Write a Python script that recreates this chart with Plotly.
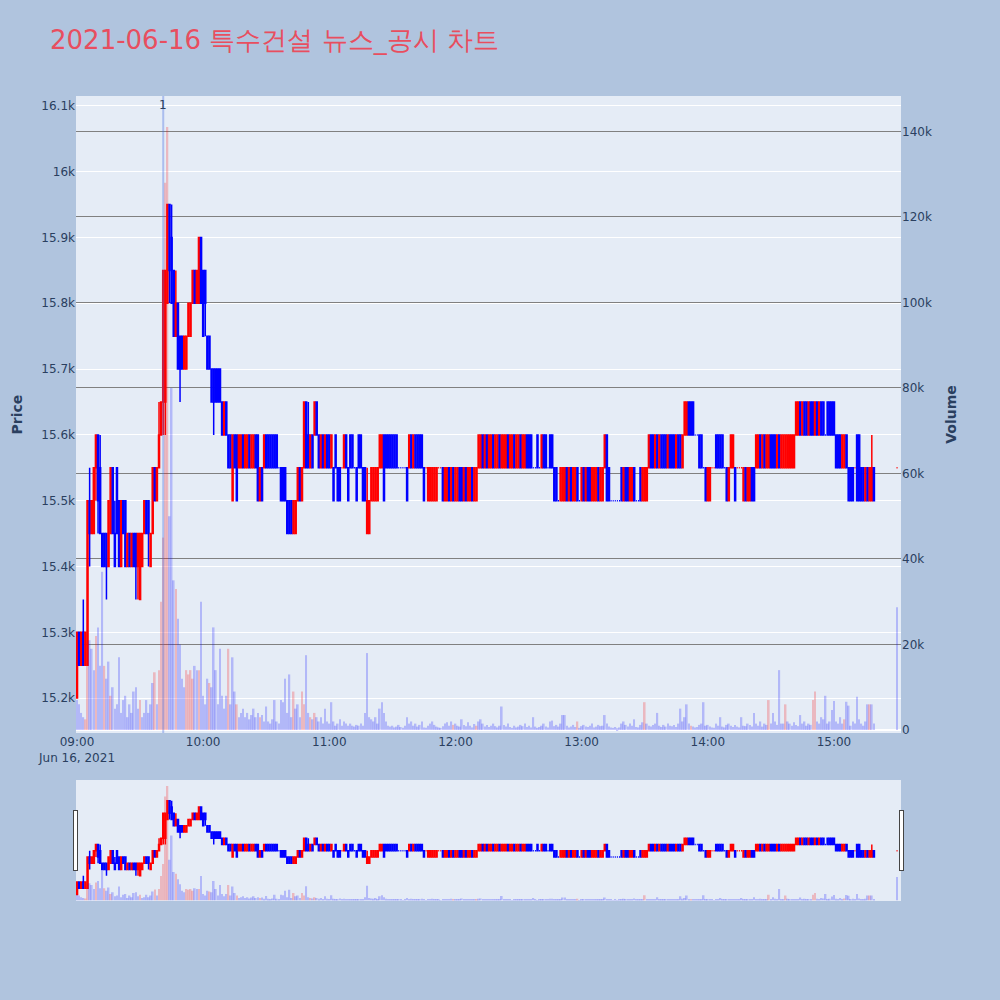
import plotly.graph_objects as go
from plotly.subplots import make_subplots
import pandas as pd

title_text = "2021-06-16 특수건설 뉴스_공시 차트"
news_time = "2021-06-16 09:41"
news_label = "1"

# one candle per minute 09:00-15:19, plus the 15:30 closing auction
times = list(pd.date_range("2021-06-16 09:00", periods=380, freq="min")) + [pd.Timestamp("2021-06-16 15:30")]

opens = [
    15200,15300,15250,15300,15250,15250,15500,15450,15450,15550,
    15600,15550,15450,15450,15450,15400,15450,15550,15450,15550,
    15500,15400,15500,15500,15400,15450,15400,15450,15450,15400,
    15350,15400,15450,15500,15500,15400,15450,15550,15500,15550,
    15600,15650,15650,15800,15950,15900,15850,15750,15800,15750,
    15750,15700,15700,15750,15750,15800,15850,15800,15800,15900,
    15850,15850,15750,15750,15700,15700,15700,15700,15700,15650,
    15600,15650,15600,15600,15500,15600,15600,15550,15550,15600,
    15550,15550,15600,15550,15550,15600,15600,15500,15550,15550,
    15600,15600,15600,15600,15600,15600,15550,15550,15550,15550,
    15500,15500,15500,15450,15450,15500,15550,15500,15550,15650,
    15600,15550,15600,15600,15650,15600,15550,15600,15550,15600,
    15600,15550,15550,15600,15550,15550,15550,15550,15600,15550,
    15600,15600,15550,15550,15600,15600,15550,15550,15450,15450,
    15500,15500,15500,15500,15550,15550,15600,15600,15600,15600,
    15600,15600,15600,15550,15550,15550,15550,15550,15550,15600,
    15550,15600,15600,15600,15600,15550,15550,15500,15500,15500,
    15500,15500,15550,15550,15550,15500,15500,15550,15500,15550,
    15500,15500,15550,15550,15500,15550,15500,15500,15550,15500,
    15500,15550,15550,15600,15550,15600,15550,15550,15600,15550,
    15550,15600,15550,15550,15550,15600,15550,15550,15600,15550,
    15550,15600,15550,15550,15600,15600,15600,15550,15550,15600,
    15550,15550,15600,15600,15550,15600,15600,15550,15550,15500,
    15500,15500,15500,15550,15500,15550,15500,15500,15550,15500,
    15500,15550,15500,15550,15550,15500,15500,15500,15550,15500,
    15500,15550,15600,15550,15500,15500,15500,15500,15500,15550,
    15500,15550,15550,15500,15500,15550,15500,15500,15550,15500,
    15500,15500,15550,15600,15600,15550,15600,15550,15600,15600,
    15600,15550,15600,15600,15600,15550,15600,15600,15550,15600,
    15600,15650,15650,15650,15600,15600,15600,15600,15550,15550,
    15500,15500,15550,15550,15600,15600,15600,15600,15550,15550,
    15500,15550,15550,15550,15550,15550,15550,15500,15550,15500,
    15500,15550,15550,15550,15550,15600,15550,15600,15550,15550,
    15600,15600,15600,15550,15600,15550,15550,15550,15550,15550,
    15550,15550,15600,15600,15650,15600,15650,15650,15600,15650,
    15650,15600,15650,15600,15650,15650,15600,15650,15650,15650,
    15650,15600,15600,15600,15550,15550,15600,15550,15550,15550,
    15550,15600,15600,15550,15550,15500,15550,15500,15500,15550,
    15550,
]
highs = [
    15300,15300,15300,15350,15300,15500,15550,15500,15550,15600,
    15600,15600,15450,15450,15450,15500,15550,15550,15500,15550,
    15500,15500,15500,15500,15450,15450,15450,15450,15450,15450,
    15450,15450,15500,15500,15500,15450,15550,15550,15550,15650,
    15650,15850,15850,15950,15950,15950,15850,15850,15800,15750,
    15750,15750,15750,15800,15800,15850,15850,15850,15900,15900,
    15850,15850,15750,15750,15700,15700,15700,15700,15700,15650,
    15650,15650,15600,15600,15600,15600,15600,15600,15600,15600,
    15600,15600,15600,15600,15600,15600,15600,15550,15550,15600,
    15600,15600,15600,15600,15600,15600,15550,15550,15550,15550,
    15500,15500,15500,15500,15500,15550,15550,15550,15650,15650,
    15650,15600,15600,15650,15650,15600,15600,15600,15600,15600,
    15600,15600,15550,15600,15550,15550,15550,15600,15600,15550,
    15600,15600,15550,15550,15600,15600,15550,15550,15550,15500,
    15550,15550,15550,15550,15600,15600,15600,15600,15600,15600,
    15600,15600,15600,15550,15550,15550,15550,15550,15600,15600,
    15600,15600,15600,15600,15600,15550,15550,15550,15550,15550,
    15550,15550,15550,15550,15550,15550,15550,15550,15550,15550,
    15550,15550,15550,15550,15550,15550,15550,15550,15550,15550,
    15550,15600,15600,15600,15600,15600,15600,15600,15600,15600,
    15600,15600,15600,15600,15600,15600,15600,15600,15600,15600,
    15600,15600,15600,15600,15600,15600,15600,15550,15550,15600,
    15550,15600,15600,15600,15550,15600,15600,15550,15550,15500,
    15550,15550,15550,15550,15550,15550,15550,15550,15550,15500,
    15550,15550,15550,15550,15550,15550,15550,15550,15550,15550,
    15550,15600,15600,15550,15500,15500,15500,15500,15500,15550,
    15550,15550,15550,15550,15550,15550,15500,15500,15550,15550,
    15550,15550,15600,15600,15600,15600,15600,15600,15600,15600,
    15600,15600,15600,15600,15600,15600,15600,15600,15600,15650,
    15650,15650,15650,15650,15600,15600,15600,15600,15550,15550,
    15550,15550,15550,15550,15600,15600,15600,15600,15550,15550,
    15550,15600,15600,15550,15550,15550,15550,15550,15550,15550,
    15550,15550,15550,15600,15600,15600,15600,15600,15600,15600,
    15600,15600,15600,15600,15600,15600,15600,15600,15600,15600,
    15600,15600,15650,15650,15650,15650,15650,15650,15650,15650,
    15650,15650,15650,15650,15650,15650,15600,15650,15650,15650,
    15650,15600,15600,15600,15600,15600,15600,15550,15550,15550,
    15550,15600,15600,15550,15550,15550,15550,15550,15600,15550,
    15550,
]
lows = [
    15200,15250,15250,15250,15250,15250,15400,15450,15450,15500,
    15450,15450,15400,15400,15350,15400,15450,15450,15400,15450,
    15400,15400,15450,15400,15400,15400,15400,15400,15350,15350,
    15350,15400,15450,15450,15400,15400,15450,15500,15500,15550,
    15600,15600,15600,15800,15800,15800,15750,15750,15700,15650,
    15700,15700,15700,15750,15750,15800,15800,15800,15800,15800,
    15750,15750,15700,15700,15650,15600,15650,15650,15650,15600,
    15600,15600,15550,15550,15500,15550,15500,15550,15550,15550,
    15550,15550,15550,15550,15550,15550,15500,15500,15500,15550,
    15550,15550,15550,15550,15550,15550,15550,15500,15500,15500,
    15450,15450,15450,15450,15450,15500,15500,15500,15550,15550,
    15550,15550,15550,15600,15600,15550,15550,15550,15550,15550,
    15550,15550,15500,15550,15500,15500,15550,15550,15550,15500,
    15550,15550,15550,15500,15550,15550,15500,15500,15450,15450,
    15500,15500,15500,15500,15550,15550,15500,15550,15550,15550,
    15550,15550,15550,15550,15550,15550,15550,15500,15550,15550,
    15550,15550,15550,15550,15550,15500,15550,15500,15500,15500,
    15500,15500,15550,15550,15500,15500,15500,15500,15500,15500,
    15500,15500,15500,15500,15500,15500,15500,15500,15500,15500,
    15500,15550,15550,15550,15550,15550,15550,15550,15550,15550,
    15550,15550,15550,15550,15550,15550,15550,15550,15550,15550,
    15550,15550,15550,15550,15550,15550,15550,15550,15550,15550,
    15550,15550,15550,15550,15550,15550,15550,15500,15500,15500,
    15500,15500,15500,15500,15500,15500,15500,15500,15500,15500,
    15500,15500,15500,15500,15500,15500,15500,15500,15500,15500,
    15500,15550,15500,15500,15500,15500,15500,15500,15500,15500,
    15500,15500,15500,15500,15500,15500,15500,15500,15500,15500,
    15500,15500,15550,15550,15550,15550,15550,15550,15550,15550,
    15550,15550,15550,15550,15550,15550,15550,15550,15550,15600,
    15600,15600,15600,15600,15600,15600,15550,15550,15550,15500,
    15500,15500,15550,15550,15550,15550,15550,15550,15550,15500,
    15500,15550,15550,15500,15550,15550,15550,15500,15500,15500,
    15500,15500,15500,15550,15550,15550,15550,15550,15550,15550,
    15550,15550,15550,15550,15550,15550,15550,15550,15550,15550,
    15550,15550,15600,15600,15600,15600,15600,15600,15600,15600,
    15600,15600,15600,15600,15600,15600,15600,15600,15600,15600,
    15600,15550,15550,15550,15550,15550,15550,15500,15500,15500,
    15550,15500,15500,15500,15500,15500,15500,15500,15500,15500,
    15550,
]
closes = [
    15300,15250,15300,15250,15300,15500,15450,15500,15550,15600,
    15500,15450,15400,15400,15400,15500,15550,15450,15400,15450,
    15400,15500,15450,15400,15450,15400,15450,15400,15400,15450,
    15450,15450,15500,15450,15450,15450,15550,15500,15550,15600,
    15650,15850,15850,15950,15850,15800,15750,15800,15700,15700,
    15700,15750,15750,15800,15800,15850,15800,15850,15900,15800,
    15750,15800,15700,15700,15650,15650,15650,15650,15650,15600,
    15650,15600,15550,15550,15600,15550,15500,15600,15600,15550,
    15600,15600,15550,15600,15600,15550,15500,15550,15500,15600,
    15550,15550,15550,15550,15550,15550,15550,15500,15500,15500,
    15450,15450,15450,15500,15500,15550,15500,15550,15650,15550,
    15550,15600,15550,15650,15600,15550,15600,15550,15600,15550,
    15550,15600,15500,15550,15500,15500,15550,15600,15550,15500,
    15550,15550,15550,15500,15550,15550,15500,15500,15500,15500,
    15550,15550,15550,15550,15600,15600,15500,15550,15550,15550,
    15550,15550,15550,15550,15550,15550,15550,15500,15600,15550,
    15600,15550,15550,15550,15550,15500,15550,15550,15550,15550,
    15550,15550,15550,15550,15500,15550,15550,15500,15550,15500,
    15550,15550,15500,15500,15550,15500,15550,15550,15500,15550,
    15550,15600,15600,15550,15600,15550,15600,15600,15550,15600,
    15600,15550,15600,15600,15600,15550,15600,15600,15550,15600,
    15600,15550,15600,15600,15550,15550,15550,15550,15550,15550,
    15550,15600,15550,15550,15550,15550,15550,15500,15500,15500,
    15550,15550,15550,15500,15550,15500,15550,15550,15500,15500,
    15550,15500,15550,15500,15500,15550,15550,15550,15500,15550,
    15550,15600,15500,15500,15500,15500,15500,15500,15500,15500,
    15550,15500,15500,15550,15550,15500,15500,15500,15500,15550,
    15550,15550,15600,15550,15550,15600,15550,15600,15550,15550,
    15550,15600,15550,15550,15550,15600,15550,15550,15600,15650,
    15650,15600,15600,15600,15600,15600,15550,15550,15550,15500,
    15550,15550,15550,15550,15550,15550,15550,15550,15550,15500,
    15550,15600,15600,15500,15550,15550,15550,15550,15500,15550,
    15550,15500,15500,15600,15600,15550,15600,15550,15600,15600,
    15550,15550,15550,15600,15550,15600,15600,15600,15600,15600,
    15600,15600,15650,15650,15600,15650,15600,15600,15650,15600,
    15600,15650,15600,15650,15600,15600,15600,15600,15600,15600,
    15600,15550,15550,15550,15600,15600,15550,15500,15500,15500,
    15550,15500,15500,15500,15500,15550,15500,15550,15550,15500,
    15550,
]
volumes = [
    7000,6000,4000,3000,2500,20500,21000,19000,14000,22000,
    24000,15000,37000,15000,12000,16000,8000,10000,5000,6000,
    17000,4000,7000,8000,3000,6000,4000,9000,10000,5000,
    7000,3000,4000,7000,4000,6000,11000,13500,6000,14000,
    30000,45000,128000,141000,50000,80000,35000,33000,26000,20000,
    12000,10000,14000,13000,14000,12000,15000,14000,14000,30000,
    8000,6000,12000,11000,10000,24000,14000,6000,19000,8000,
    5000,8000,19000,6000,17000,9000,6000,3000,4000,5000,
    3000,4000,2500,3500,5000,3000,4000,3000,3500,2000,
    5500,2000,1500,2500,7000,2000,1500,7000,6500,12000,
    4000,13000,3000,9000,5000,6000,3000,9000,6000,17500,
    4000,3000,2500,4000,3000,2000,3000,1500,5000,2000,
    1500,6500,2000,1000,1500,2500,1000,2000,1500,1000,
    1500,1000,800,1200,1000,1500,1000,4000,18000,3000,
    2500,2000,3000,1500,5000,6500,4000,2000,1000,800,
    1000,600,800,1200,700,500,1000,3000,1500,2000,
    1000,1500,800,1200,2000,600,500,1000,1500,2000,
    1200,800,600,500,900,1500,1800,1000,2000,1200,
    1500,1000,800,2500,1200,900,1800,1000,600,1400,
    1000,2000,2500,1500,800,1200,700,1000,1500,900,
    600,1000,5500,1200,800,1500,700,500,1000,600,
    800,1200,900,1500,700,1000,600,3000,800,500,
    700,1000,1500,800,600,2000,2200,900,1200,800,
    1500,3500,3500,1000,600,800,1200,700,2000,500,
    900,1200,800,700,1000,1500,600,800,1200,900,
    1000,3500,1500,800,600,500,700,400,600,1500,
    2000,1200,800,1500,1000,2500,700,600,1200,1800,
    6500,1500,1000,800,1200,1500,4000,1000,700,1200,
    800,1500,1000,900,1200,700,1500,5000,2000,3000,
    6000,1500,1000,800,600,700,1200,1500,6500,1000,
    1200,800,600,500,1500,1000,3000,800,600,1200,
    1500,1000,700,1200,800,600,3000,1000,900,1500,
    1200,800,4000,1500,1000,2000,800,1500,1200,7000,
    1500,4000,2000,1200,14000,1500,1500,6000,2000,1500,
    1000,1800,1200,900,3500,1500,2000,1000,1500,1200,
    7000,9000,2000,1500,3000,2500,8000,1500,2000,4700,
    6800,2000,1500,3000,1500,2500,6600,5700,1000,2000,
    1500,7800,2500,1500,1000,2000,6000,6000,6000,1500,
    28700,
]
# minutes (index into times) whose volume bar is drawn red; all others blue
vol_red_idx = [4, 5, 9, 13, 16, 30, 37, 39, 40, 41, 42, 43, 47, 52, 53, 54, 55, 58,
               63, 72, 76, 87, 103, 107, 108, 111, 113, 179, 190, 238, 270, 292,
               329, 337, 350, 351, 365, 377]

vol_colors = ["red" if i in vol_red_idx else "blue" for i in range(len(volumes))]

fig = make_subplots(specs=[[{"secondary_y": True}]])
fig.add_trace(
    go.Candlestick(
        x=times, open=opens, high=highs, low=lows, close=closes, name="Price",
        increasing=dict(line=dict(color="red", width=1.5), fillcolor="red"),
        decreasing=dict(line=dict(color="blue", width=1.5), fillcolor="blue"),
    ),
    secondary_y=False,
)
fig.add_trace(
    go.Bar(x=times, y=volumes, name="Volume",
           marker=dict(color=vol_colors, line=dict(width=0), opacity=0.22)),
    secondary_y=True,
)

fig.add_shape(type="line", xref="x", yref="paper", x0=news_time, x1=news_time, y0=0, y1=1,
              line=dict(color="royalblue", width=2), opacity=0.35)
fig.add_annotation(x=news_time, y=1, xref="x", yref="paper", text=news_label,
                   showarrow=False, font=dict(size=12))

fig.update_layout(
    width=1000, height=1000,
    font=dict(family="DejaVu Sans, Verdana, sans-serif", size=12),
    paper_bgcolor="lightsteelblue",
    showlegend=False,
    title=dict(text=title_text, x=0.05, xanchor="left", y=0.96, yanchor="middle",
               font=dict(size=26, color="rgb(232,78,95)")),
    margin=dict(l=76, r=99, t=96, b=100),
    xaxis=dict(
        type="date",
        domain=[0, 1],
        range=["2021-06-16 08:59:31", "2021-06-16 15:31:53"],
        rangeslider=dict(visible=True, thickness=0.15, bgcolor="#E5ECF6"),
    ),
)
fig.update_yaxes(title=dict(text="<b>Price</b>", font=dict(size=14)), range=[15147, 16115],
                 automargin=False, secondary_y=False)
fig.update_yaxes(title=dict(text="<b>Volume</b>", font=dict(size=14)), range=[-700, 148270],
                 showgrid=True, gridcolor="gray", automargin=False, secondary_y=True)

fig.write_html("out.html", config={"displayModeBar": False},
               post_script="document.body.style.margin='0';")
